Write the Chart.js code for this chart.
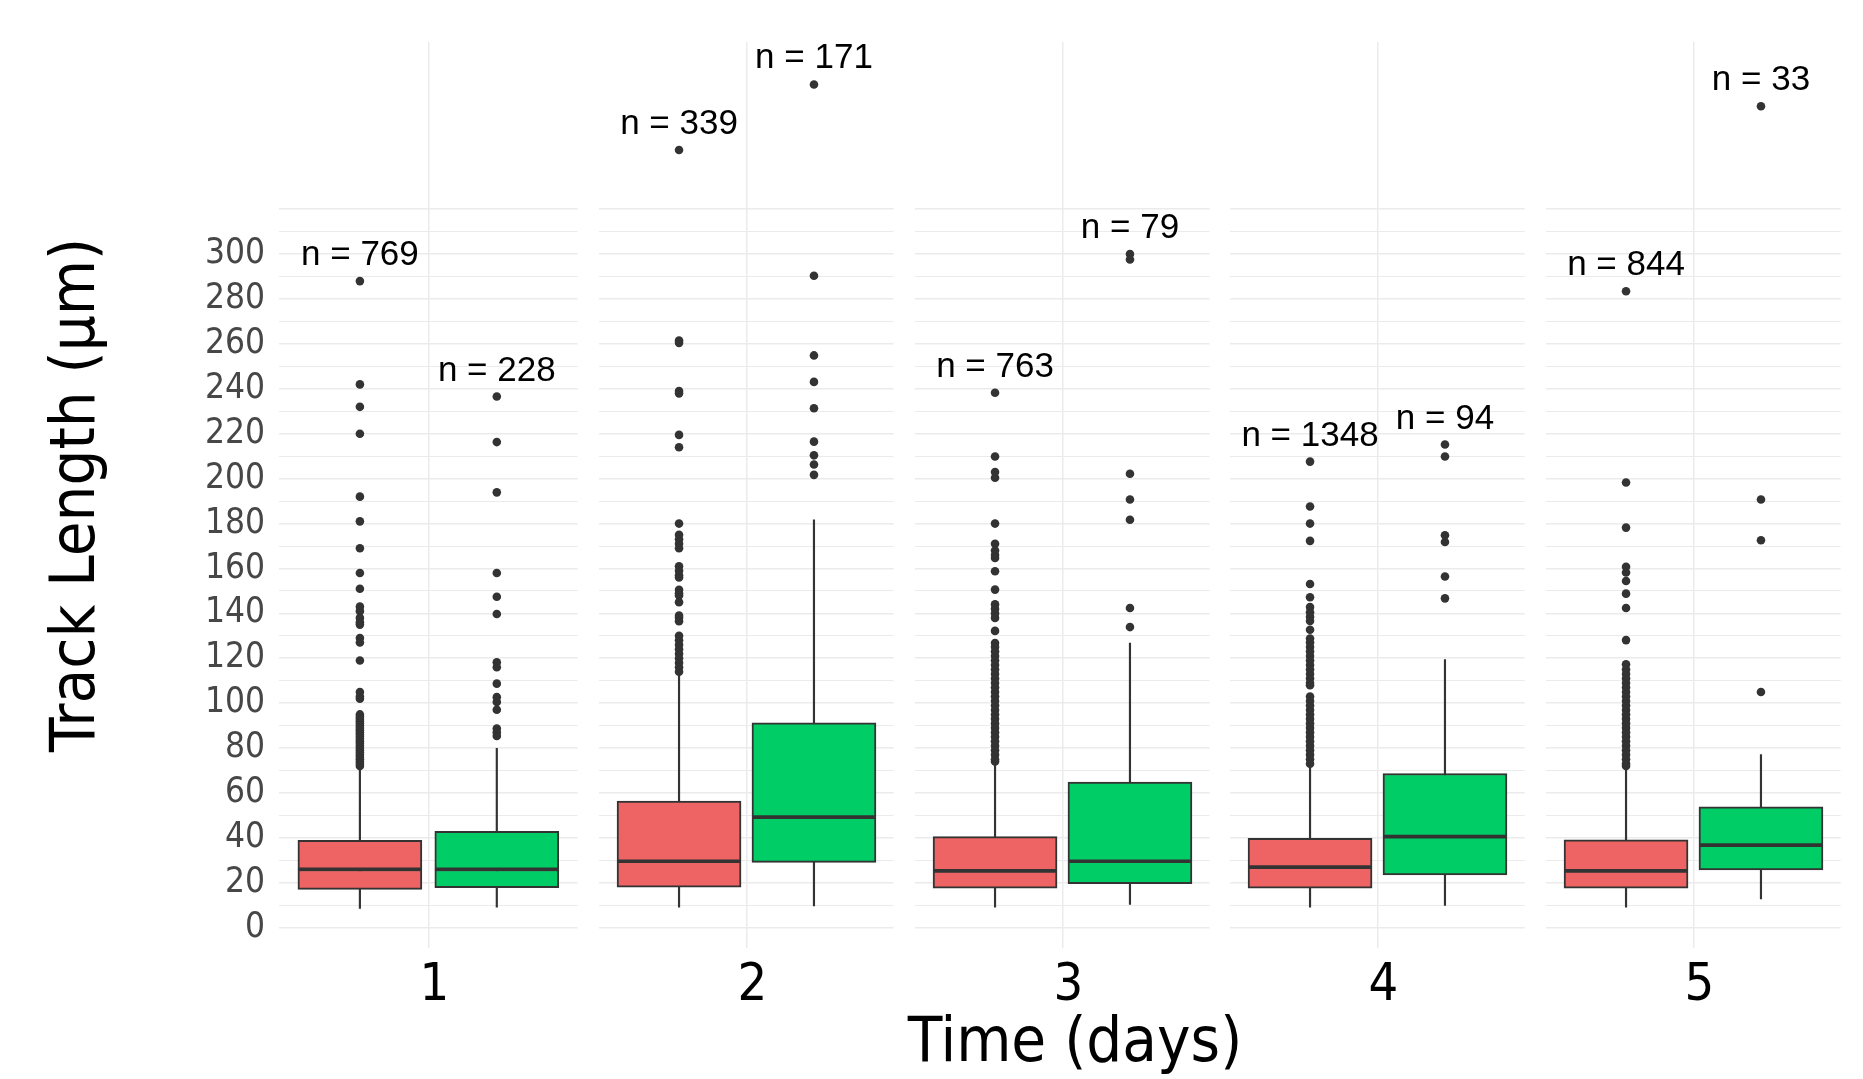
<!DOCTYPE html>
<html>
<head>
<meta charset="utf-8">
<script src="https://cdn.jsdelivr.net/npm/chart.js@4.4.1/dist/chart.umd.min.js"></script>
<style>
  html, body { margin: 0; padding: 0; background: #ffffff; width: 1863px; height: 1079px; overflow: hidden; }
  canvas { position: absolute; top: 0; }
  #xtitle { position: absolute; left: 775px; width: 600px; top: 1008px; text-align: center;
            font: 63px "DejaVu Sans Condensed", "DejaVu Sans", sans-serif; line-height: 63px; color: #000; white-space: nowrap; }
</style>
</head>
<body>
<canvas id="c0"></canvas>
<canvas id="c1"></canvas>
<canvas id="c2"></canvas>
<canvas id="c3"></canvas>
<canvas id="c4"></canvas>
<div id="xtitle">Time (days)</div>
<script>
// ---------- data ----------
const days = [1, 2, 3, 4, 5];

const nRed   = [769, 339, 763, 1348, 844];
const nGreen = [228, 171, 79, 94, 33];

const redLow  = [8.6, 9.1, 9.1, 9.1, 9.1];
const redQ1   = [17.1, 18.1, 17.6, 17.6, 17.6];
const redMed  = [26.0, 29.6, 25.3, 27.0, 25.3];
const redQ3   = [38.9, 56.4, 40.6, 39.8, 39.1];
const redHigh = [71.7, 113.0, 73.8, 72.6, 71.3];

const greenLow  = [9.2, 9.7, 10.4, 9.9, 12.8];
const greenQ1   = [17.8, 29.1, 19.6, 23.5, 25.7];
const greenMed  = [26.0, 49.3, 29.6, 40.6, 36.8];
const greenQ3   = [42.9, 91.2, 64.9, 68.7, 53.8];
const greenHigh = [79.9, 181.7, 126.8, 119.4, 77.1];

const redOutliers = [
  [288, 242, 232, 220, 192, 181, 169, 158, 151, 143, 141, 138, 136, 135, 129, 127, 119, 105, 103, 102,
   95, 94, 93, 92, 91, 90, 89, 88, 87, 86, 85, 84, 83, 82, 81, 80, 79, 78, 77, 76, 75, 74, 73, 72],
  [346.4, 261.5, 260.5, 239, 238, 219.5, 214, 180, 175, 173, 171, 169, 161, 159, 157, 156, 150.5, 149, 148,
   145, 139, 138, 136.5, 130, 128, 126, 124, 122, 120, 118, 116, 114],
  [238.3, 209.9, 203, 200.4, 180, 171, 168, 166, 164.7, 158.8, 150.6, 144, 142, 140, 138, 132.2, 126.8, 125,
   123, 121, 119, 117, 115, 113, 111, 109, 107, 105, 103, 101, 99, 97, 95, 93, 91, 89, 87, 85, 83, 81, 79, 77, 75, 74],
  [207.6, 187.6, 180, 172.3, 153.1, 147.2, 142.8, 140.5, 138.5, 136.6, 132.7, 128.8, 127, 125, 123, 121, 119,
   117, 115, 113, 111, 109, 108, 103, 101, 99, 97, 95, 93, 91, 89, 87, 85, 83, 81, 79, 77, 75, 73],
  [283.5, 198.3, 178.2, 160.8, 158.2, 154.4, 148.8, 142.4, 128.1, 117.3, 115, 113, 111, 109, 107, 105, 103,
   101, 99, 97, 95, 93, 91, 89, 87, 85, 83, 81, 79, 77, 75, 73, 72]
];
const greenOutliers = [
  [236.6, 216.3, 193.9, 158, 147.4, 139.7, 118.2, 116, 108.7, 102.7, 100.5, 97.1, 88.7, 87, 85.4],
  [375.6, 290.4, 254.9, 243.1, 231.4, 216.5, 210.4, 206.3, 201.7],
  [300.1, 297.6, 202.2, 190.7, 181.7, 142.4, 133.9],
  [215.2, 209.9, 174.8, 171.8, 156.4, 146.7],
  [365.9, 190.7, 172.6, 105]
];

const yTickLabels = [0, 20, 40, 60, 80, 100, 120, 140, 160, 180, 200, 220, 240, 260, 280, 300];
const yGridValues = [0, 10, 20, 30, 40, 50, 60, 70, 80, 90, 100, 110, 120, 130, 140, 150, 160,
                     170, 180, 190, 200, 210, 220, 230, 240, 250, 260, 270, 280, 290, 300, 310, 320];

// ---------- styling / layout ----------
const RED = '#EE6363', GREEN = '#00CD66', DARK = '#333333', GRID = '#EBEBEB';
const DODGE = 0.275;          // dodge offset of the two boxes (x units)
const BOX_PX = 124;
const COND = '"DejaVu Sans Condensed", "DejaVu Sans", sans-serif';
const panelLeft = [279, 595, 911, 1226, 1542];
const PANEL_W = 303;
const Y_MIN = -9.04, Y_MAX = 394.5;

const nLabelPlugin = {
  id: 'nLabels',
  afterDatasetsDraw(chart, args, opts) {
    const { ctx } = chart;
    const xs = chart.scales.x, ys = chart.scales.y;
    ctx.save();
    ctx.font = '35px "Liberation Sans", Arial, sans-serif';
    ctx.fillStyle = '#000000';
    ctx.textAlign = 'center';
    ctx.textBaseline = 'alphabetic';
    (opts.items || []).forEach(it => {
      ctx.fillText('n = ' + it.n, xs.getPixelForValue(it.x), ys.getPixelForValue(it.top) - 16);
    });
    ctx.restore();
  }
};

function makeChart(i) {
  const day = days[i];
  const first = i === 0;
  const canvas = document.getElementById('c' + i);
  const left = first ? 0 : panelLeft[i];
  const width = first ? panelLeft[0] + PANEL_W : PANEL_W;
  canvas.width = width; canvas.height = 1079;
  canvas.style.left = left + 'px';
  canvas.style.width = width + 'px';
  canvas.style.height = '1079px';

  const groups = [
    { fill: RED, off: -DODGE, low: redLow[i], q1: redQ1[i], med: redMed[i], q3: redQ3[i], high: redHigh[i], out: redOutliers[i], n: nRed[i] },
    { fill: GREEN, off: DODGE, low: greenLow[i], q1: greenQ1[i], med: greenMed[i], q3: greenQ3[i], high: greenHigh[i], out: greenOutliers[i], n: nGreen[i] }
  ];
  const datasets = [];
  const items = [];
  groups.forEach(g => {
    const x = day + g.off;
    datasets.push({ type: 'bar', data: [{ x: x, y: [g.low, g.high] }], backgroundColor: DARK, borderWidth: 0,
                    barThickness: 1.5, grouped: false, order: 5 });
    datasets.push({ type: 'bar', data: [{ x: x, y: [g.q1, g.med] }], backgroundColor: g.fill, borderColor: DARK,
                    borderWidth: { top: 2.2, bottom: 2.0, left: 2.0, right: 2.0 }, borderSkipped: false,
                    barThickness: BOX_PX, grouped: false, order: 2 });
    datasets.push({ type: 'bar', data: [{ x: x, y: [g.med, g.q3] }], backgroundColor: g.fill, borderColor: DARK,
                    borderWidth: { top: 2.0, bottom: 2.2, left: 2.0, right: 2.0 }, borderSkipped: false,
                    barThickness: BOX_PX, grouped: false, order: 2 });
    datasets.push({ type: 'scatter', data: g.out.map(v => ({ x: x, y: v })), pointRadius: 4.3,
                    pointBackgroundColor: DARK, pointBorderWidth: 0, pointHoverRadius: 4.3, order: 0 });
    items.push({ x: x, n: g.n, top: Math.max(g.high, ...g.out) });
  });

  new Chart(canvas, {
    type: 'bar',
    data: { datasets },
    plugins: [nLabelPlugin],
    options: {
      responsive: false,
      animation: false,
      devicePixelRatio: 1,
      layout: { padding: { top: 42, left: 0, right: 0, bottom: 0 } },
      plugins: { legend: { display: false }, tooltip: { enabled: false }, nLabels: { items } },
      events: [],
      scales: {
        x: {
          type: 'linear', min: day - 0.6, max: day + 0.6, offset: false,
          afterBuildTicks: s => { s.ticks = [{ value: day }]; },
          afterFit: s => { s.height = 131; s.paddingLeft = 0; s.paddingRight = 0; },
          grid: { color: GRID, lineWidth: 1.5, drawTicks: false, offset: false },
          border: { display: false },
          ticks: { autoSkip: false, maxRotation: 0, padding: 7, labelOffset: 6, color: '#000000',
                   font: { family: COND, size: 52 }, callback: v => String(v) }
        },
        y: {
          type: 'linear', min: Y_MIN, max: Y_MAX, stacked: false,
          afterBuildTicks: s => { s.ticks = yGridValues.map(v => ({ value: v })); },
          afterFit: s => { s.width = first ? panelLeft[0] : 0; s.paddingTop = 0; s.paddingBottom = 0; },
          grid: { color: GRID, lineWidth: c => (c.tick && c.tick.value % 20 === 0) ? 1.6 : 1.0, drawTicks: false },
          border: { display: false },
          ticks: { display: first, autoSkip: false, padding: 14, color: '#474747',
                   font: { family: COND, size: 35 },
                   callback: v => yTickLabels.includes(v) ? String(v) : '' },
          title: { display: first, text: 'Track Length (µm)', color: '#000000',
                   font: { family: COND, size: 63 }, padding: { top: 40, bottom: 0 } }
        }
      }
    }
  });
}

days.forEach((d, i) => makeChart(i));
</script>
</body>
</html>
